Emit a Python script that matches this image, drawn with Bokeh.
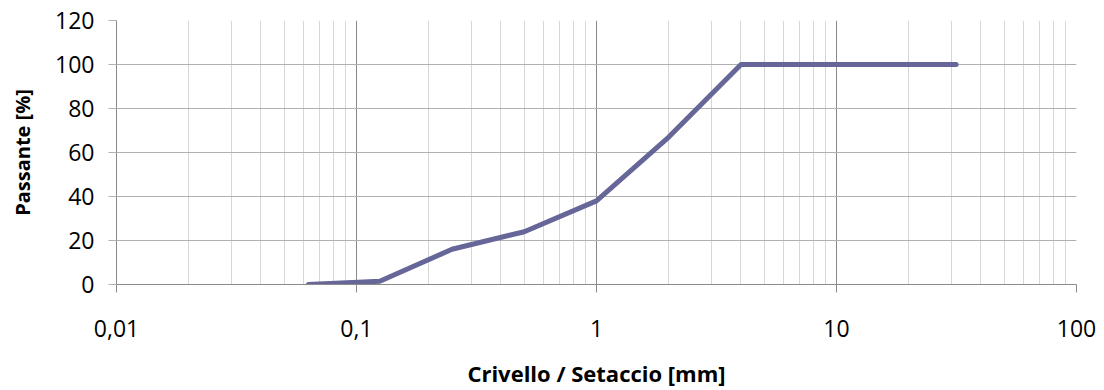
from bokeh.plotting import figure
from bokeh.models import FixedTicker, CustomJSTickFormatter, Range1d
from bokeh.embed import file_html
from bokeh.resources import INLINE

# Grain-size distribution: sieve opening [mm] vs. cumulative passing [%]
sieve_mm = [0.063, 0.125, 0.25, 0.5, 1, 2, 4, 8, 16, 31.5]
passing_pct = [0, 1.5, 16, 24, 38, 67, 100, 100, 100, 100]

x_major = [0.01, 0.1, 1, 10, 100]
x_minor = [m * d for d in [0.01, 0.1, 1, 10] for m in range(2, 10)]
y_ticks = [0, 20, 40, 60, 80, 100, 120]

FONT = "Open Sans"

p = figure(
    width=1104, height=390,
    x_axis_type="log",
    x_range=Range1d(0.01, 100), y_range=Range1d(0, 120),
    output_backend="svg", toolbar_location=None,
    min_border_left=116, min_border_right=28,
    min_border_top=20, min_border_bottom=105,
)
p.outline_line_color = None
p.background_fill_color = "white"
p.border_fill_color = "white"

p.line(sieve_mm, passing_pct, line_color="#666699", line_width=5,
       line_join="round", line_cap="round")

# x axis
xa = p.xaxis[0]
xa.ticker = FixedTicker(ticks=x_major, minor_ticks=x_minor)
xa.formatter = CustomJSTickFormatter(code="return String(tick).replace('.', ',');")
xa.axis_line_color = "#8a8a8a"
xa.major_tick_line_color = "#8a8a8a"
xa.major_tick_out = 8
xa.major_tick_in = 0
xa.minor_tick_out = 0
xa.minor_tick_in = 0
xa.major_label_text_font = FONT
xa.major_label_text_font_size = "23px"
xa.major_label_text_color = "black"
xa.major_label_standoff = 27
xa.axis_label = "Crivello / Setaccio [mm]"
xa.axis_label_text_font = FONT
xa.axis_label_text_font_style = "bold"
xa.axis_label_text_font_size = "22px"
xa.axis_label_text_color = "black"
xa.axis_label_standoff = 18

# y axis
ya = p.yaxis[0]
ya.ticker = FixedTicker(ticks=y_ticks)
ya.axis_line_color = "#8a8a8a"
ya.major_tick_line_color = "#b0b0b0"
ya.major_tick_out = 8
ya.major_tick_in = 0
ya.minor_tick_out = 0
ya.minor_tick_in = 0
ya.major_label_text_font = FONT
ya.major_label_text_font_size = "23px"
ya.major_label_text_color = "black"
ya.major_label_standoff = 14
ya.axis_label = "Passante [%]"
ya.axis_label_text_font = FONT
ya.axis_label_text_font_style = "bold"
ya.axis_label_text_font_size = "20px"
ya.axis_label_text_color = "black"
ya.axis_label_standoff = 16

# grids
p.xgrid.grid_line_color = "#8a8a8a"
p.xgrid.minor_grid_line_color = "#d6d6d6"
p.ygrid.grid_line_color = "#b0b0b0"
p.xgrid.level = "underlay"
p.ygrid.level = "underlay"

open("out.html", "w").write(file_html(p, INLINE))
